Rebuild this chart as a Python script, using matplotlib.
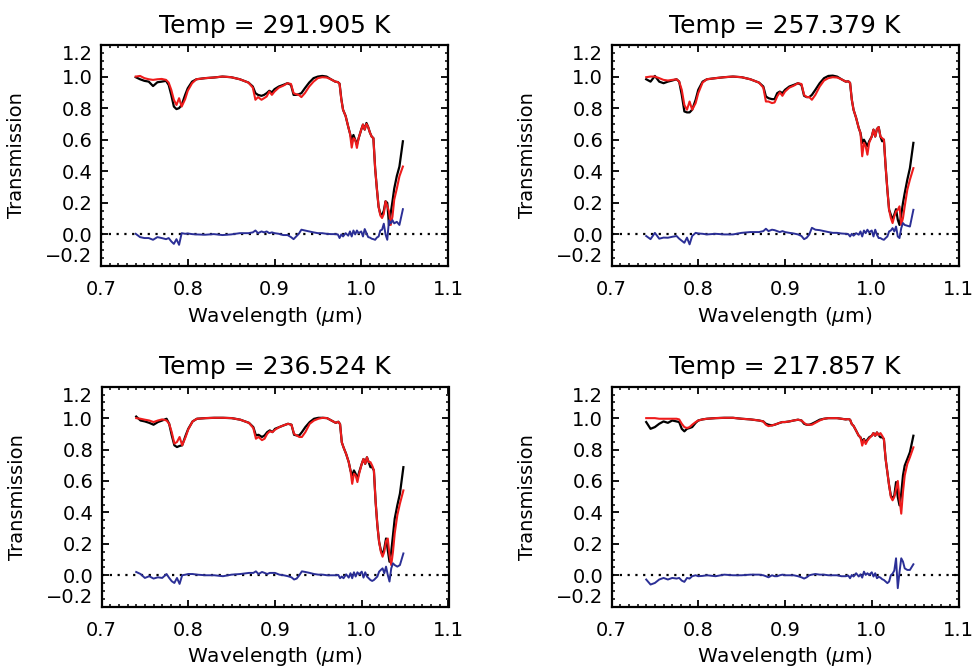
import matplotlib
matplotlib.use("Agg")
import matplotlib.pyplot as plt
from matplotlib.ticker import MultipleLocator, FixedLocator

# ---------------- data ----------------
wavelength = [0.740, 0.745, 0.750, 0.755, 0.760, 0.765, 0.770, 0.775,
              0.778, 0.781, 0.784, 0.787, 0.790, 0.793, 0.797,
              0.800, 0.805, 0.810,
              0.820, 0.830, 0.840, 0.850, 0.860, 0.870,
              0.875, 0.878, 0.881, 0.885, 0.888, 0.891, 0.894, 0.897,
              0.900, 0.905, 0.910, 0.915, 0.919,
              0.922, 0.925, 0.928, 0.931, 0.935,
              0.940, 0.945, 0.950, 0.955, 0.960, 0.965, 0.970,
              0.973, 0.975, 0.977, 0.979,
              0.982, 0.985, 0.987, 0.989, 0.991, 0.993, 0.995, 0.997,
              1.000, 1.002, 1.004, 1.006, 1.008, 1.010, 1.012, 1.014, 1.016, 1.018,
              1.020, 1.022, 1.024, 1.026, 1.028, 1.030, 1.032, 1.034, 1.036, 1.038,
              1.041, 1.044, 1.048]

temps = ["291.905", "257.379", "236.524", "217.857"]

# Panel 1: T = 291.905 K
obs_1 = [0.996, 0.983, 0.973, 0.968, 0.940, 0.964, 0.968, 0.973,
         0.947, 0.884, 0.810, 0.794, 0.800, 0.820, 0.884,
         0.926, 0.968, 0.983,
         0.990, 0.994, 1.000, 0.996, 0.983, 0.962,
         0.937, 0.895, 0.884, 0.878, 0.884, 0.895, 0.910, 0.900,
         0.920, 0.937, 0.947, 0.958, 0.947,
         0.884, 0.884, 0.888, 0.895, 0.926,
         0.962, 0.990, 1.000, 1.004, 1.000, 0.983, 0.968,
         0.965, 0.955, 0.860, 0.790,
         0.750, 0.682, 0.640, 0.600, 0.630, 0.600, 0.570, 0.610,
         0.664, 0.696, 0.664, 0.706, 0.680, 0.645, 0.620, 0.610, 0.420, 0.290,
         0.175, 0.130, 0.125, 0.150, 0.210, 0.200, 0.060, 0.135, 0.210, 0.290,
         0.370, 0.430, 0.590]
model_1 = [1.000, 1.004, 0.990, 0.983, 0.979, 0.983, 0.985, 0.979,
           0.962, 0.916, 0.853, 0.820, 0.863, 0.810, 0.857,
           0.910, 0.958, 0.983,
           0.990, 0.994, 1.000, 0.996, 0.983, 0.962,
           0.930, 0.853, 0.870, 0.853, 0.863, 0.874, 0.905, 0.884,
           0.905, 0.930, 0.942, 0.958, 0.953,
           0.895, 0.888, 0.884, 0.870, 0.895,
           0.937, 0.968, 0.990, 0.996, 0.994, 0.983, 0.968,
           0.965, 0.955, 0.855, 0.790,
           0.750, 0.682, 0.640, 0.550, 0.610, 0.600, 0.548, 0.610,
           0.664, 0.696, 0.664, 0.700, 0.680, 0.645, 0.620, 0.610, 0.420, 0.290,
           0.175, 0.120, 0.104, 0.130, 0.210, 0.180, 0.146, 0.060, 0.114, 0.220,
           0.290, 0.368, 0.430]
resid_1 = [0.004, -0.017, -0.023, -0.023, -0.034, -0.017, -0.023, -0.030,
           -0.023, -0.044, -0.060, -0.030, -0.066, 0.008, 0.004,
           0.006, 0.002, 0.000,
           -0.002, 0.002, -0.004, 0.000, 0.008, 0.008,
           0.013, 0.025, 0.008, 0.019, 0.013, 0.019, 0.008, 0.013,
           0.008, 0.004, -0.004, -0.004, -0.017,
           -0.030, -0.013, 0.004, 0.030, 0.025,
           0.019, 0.013, 0.008, 0.008, 0.004, 0.002, 0.002,
           0.000, -0.023, 0.000, -0.013,
           0.008, -0.008, 0.019, -0.013, 0.025, 0.000, 0.025, 0.008,
           0.019, -0.013, 0.034, 0.008, -0.017, -0.020, -0.027, -0.030, -0.034, -0.020,
           -0.013, 0.025, 0.030, 0.068, 0.000, -0.034, 0.090, 0.070, 0.090, 0.070,
           0.080, 0.060, 0.160]

# Panel 2: T = 257.379 K
obs_2 = [0.983, 0.968, 1.004, 0.968, 0.958, 0.968, 0.975, 0.983,
         0.968, 0.884, 0.779, 0.773, 0.773, 0.790, 0.853,
         0.916, 0.968, 0.983,
         0.990, 0.996, 1.000, 0.996, 0.983, 0.962,
         0.937, 0.874, 0.863, 0.857, 0.857, 0.895, 0.905, 0.895,
         0.916, 0.937, 0.947, 0.958, 0.947,
         0.878, 0.870, 0.870, 0.884, 0.916,
         0.958, 0.990, 1.004, 1.006, 1.000, 0.983, 0.968,
         0.970, 0.960, 0.854, 0.790,
         0.738, 0.674, 0.643, 0.580, 0.600, 0.580, 0.558, 0.590,
         0.620, 0.664, 0.620, 0.668, 0.680, 0.620, 0.590, 0.600, 0.430, 0.283,
         0.156, 0.125, 0.093, 0.125, 0.160, 0.093, 0.060, 0.125, 0.200, 0.262,
         0.347, 0.420, 0.580]
model_2 = [0.996, 1.000, 1.000, 0.990, 0.979, 0.975, 0.979, 0.983,
           0.968, 0.916, 0.820, 0.790, 0.842, 0.790, 0.832,
           0.895, 0.962, 0.983,
           0.990, 0.996, 1.000, 0.996, 0.983, 0.962,
           0.930, 0.842, 0.842, 0.832, 0.836, 0.874, 0.900, 0.878,
           0.905, 0.930, 0.942, 0.958, 0.953,
           0.884, 0.870, 0.870, 0.853, 0.884,
           0.937, 0.975, 0.990, 0.996, 0.994, 0.983, 0.968,
           0.970, 0.960, 0.854, 0.790,
           0.738, 0.674, 0.643, 0.495, 0.580, 0.558, 0.505, 0.580,
           0.620, 0.664, 0.620, 0.668, 0.680, 0.620, 0.610, 0.600, 0.430, 0.283,
           0.156, 0.104, 0.072, 0.114, 0.146, 0.156, 0.178, 0.060, 0.104, 0.178,
           0.283, 0.347, 0.420]
resid_2 = [-0.010, -0.030, 0.010, -0.027, -0.020, -0.021, -0.015, -0.010,
           -0.027, -0.040, -0.053, -0.020, -0.063, -0.010, 0.010,
           0.006, 0.004, 0.000,
           0.004, 0.000, 0.000, 0.010, 0.015, 0.015,
           0.021, 0.036, 0.021, 0.030, 0.027, 0.021, 0.015, 0.021,
           0.015, 0.010, 0.006, 0.000, -0.010,
           -0.030, -0.021, 0.000, 0.042, 0.030,
           0.027, 0.021, 0.015, 0.010, 0.010, 0.006, 0.004,
           0.002, -0.013, 0.004, -0.008,
           0.008, -0.002, 0.019, -0.013, 0.025, 0.008, 0.030, 0.013,
           0.025, -0.013, 0.030, -0.002, -0.023, -0.023, -0.030, -0.034, -0.023, -0.013,
           0.019, 0.025, 0.040, 0.019, 0.050, -0.013, -0.023, 0.040, 0.072, 0.060,
           0.055, 0.050, 0.156]

# Panel 3: T = 236.524 K
obs_3 = [1.010, 0.985, 0.979, 0.970, 0.958, 0.975, 0.985, 0.996,
         0.964, 0.890, 0.827, 0.816, 0.823, 0.827, 0.890,
         0.932, 0.979, 0.996,
         1.000, 1.002, 1.002, 1.000, 0.990, 0.970,
         0.943, 0.890, 0.894, 0.880, 0.890, 0.911, 0.922, 0.911,
         0.932, 0.943, 0.954, 0.964, 0.958,
         0.894, 0.890, 0.890, 0.911, 0.943,
         0.975, 0.996, 1.002, 1.002, 1.000, 0.985, 0.970,
         0.977, 0.962, 0.846, 0.814,
         0.772, 0.720, 0.667, 0.635, 0.667, 0.646, 0.614, 0.656,
         0.709, 0.740, 0.709, 0.751, 0.720, 0.688, 0.688, 0.667, 0.466, 0.318,
         0.213, 0.160, 0.129, 0.171, 0.234, 0.160, 0.086, 0.150, 0.255, 0.360,
         0.445, 0.519, 0.688]
model_3 = [1.000, 0.996, 0.990, 0.985, 0.975, 0.985, 0.992, 0.985,
           0.964, 0.910, 0.838, 0.848, 0.880, 0.827, 0.880,
           0.928, 0.979, 0.996,
           1.000, 1.002, 1.002, 1.000, 0.990, 0.970,
           0.937, 0.869, 0.880, 0.860, 0.869, 0.900, 0.916, 0.911,
           0.926, 0.943, 0.954, 0.964, 0.958,
           0.900, 0.890, 0.880, 0.880, 0.911,
           0.964, 0.985, 0.996, 1.002, 1.000, 0.985, 0.970,
           0.977, 0.962, 0.846, 0.814,
           0.772, 0.720, 0.667, 0.582, 0.646, 0.635, 0.593, 0.646,
           0.709, 0.740, 0.709, 0.751, 0.720, 0.720, 0.698, 0.667, 0.466, 0.318,
           0.213, 0.150, 0.118, 0.150, 0.217, 0.234, 0.129, 0.065, 0.150, 0.266,
           0.382, 0.456, 0.540]
resid_3 = [0.021, 0.008, -0.017, -0.006, -0.021, -0.013, -0.017, 0.008,
           -0.017, -0.038, -0.049, -0.017, -0.055, 0.000, 0.004,
           0.008, 0.008, 0.004,
           0.000, 0.000, -0.006, 0.004, 0.008, 0.015,
           0.015, 0.025, 0.008, 0.021, 0.015, 0.008, 0.015, 0.015,
           0.015, 0.004, 0.000, -0.006, -0.013,
           -0.027, -0.021, 0.000, 0.025, 0.021,
           0.015, 0.008, 0.004, 0.004, 0.000, 0.000, 0.000,
           0.002, -0.019, -0.008, -0.019,
           0.006, -0.015, 0.013, -0.019, 0.019, -0.008, 0.019, 0.006,
           0.023, -0.015, 0.019, -0.008, -0.019, -0.030, -0.036, -0.030, -0.019, -0.008,
           0.023, 0.034, 0.044, 0.013, 0.055, 0.002, -0.040, 0.044, 0.076, 0.065,
           0.055, 0.065, 0.139]

# Panel 4: T = 217.857 K
obs_4 = [0.975, 0.932, 0.943, 0.964, 0.979, 0.970, 0.985, 0.979,
         0.975, 0.932, 0.916, 0.932, 0.937, 0.943, 0.970,
         0.985, 0.992, 0.996,
         1.000, 1.002, 1.002, 0.996, 0.992, 0.985,
         0.979, 0.964, 0.958, 0.954, 0.958, 0.964, 0.970, 0.975,
         0.975, 0.979, 0.985, 0.990, 0.985,
         0.964, 0.958, 0.958, 0.964, 0.975,
         0.990, 0.996, 1.000, 1.000, 1.000, 0.996, 0.992,
         0.994, 0.990, 0.962, 0.951,
         0.920, 0.888, 0.878, 0.850, 0.867, 0.846, 0.863, 0.878,
         0.888, 0.905, 0.888, 0.909, 0.892, 0.878, 0.878, 0.867, 0.740, 0.656,
         0.572, 0.508, 0.487, 0.508, 0.593, 0.498, 0.445, 0.519, 0.635, 0.698,
         0.740, 0.783, 0.888]
model_4 = [1.000, 1.000, 1.000, 0.996, 0.996, 0.996, 0.996, 0.996,
           0.992, 0.964, 0.943, 0.937, 0.943, 0.958, 0.975,
           0.985, 0.992, 0.996,
           1.000, 1.002, 1.002, 0.996, 0.992, 0.985,
           0.979, 0.958, 0.949, 0.954, 0.958, 0.964, 0.970, 0.975,
           0.975, 0.979, 0.985, 0.990, 0.985,
           0.970, 0.958, 0.958, 0.958, 0.970,
           0.985, 0.996, 1.000, 1.000, 1.000, 0.996, 0.992,
           0.994, 0.990, 0.962, 0.951,
           0.920, 0.888, 0.878, 0.825, 0.863, 0.835, 0.857, 0.871,
           0.888, 0.905, 0.888, 0.909, 0.892, 0.905, 0.888, 0.867, 0.740, 0.656,
           0.572, 0.498, 0.477, 0.498, 0.550, 0.600, 0.487, 0.392, 0.530, 0.635,
           0.709, 0.751, 0.814]
resid_4 = [-0.027, -0.059, -0.049, -0.027, -0.017, -0.027, -0.017, -0.021,
           -0.017, -0.034, -0.042, -0.017, -0.021, -0.006, 0.000,
           -0.006, -0.004, 0.000,
           -0.006, 0.004, 0.000, 0.000, 0.004, 0.004,
           0.000, -0.006, -0.013, 0.000, -0.006, -0.006, 0.000, 0.004,
           0.000, 0.000, 0.000, -0.006, -0.013,
           -0.021, -0.013, 0.000, 0.004, 0.008,
           0.004, 0.004, 0.000, 0.000, 0.000, -0.006, -0.006,
           -0.002, -0.019, 0.002, -0.008,
           0.013, -0.008, 0.006, -0.015, 0.023, 0.002, 0.013, 0.002,
           0.019, -0.008, 0.013, -0.019, -0.010, -0.015, -0.025, -0.030, -0.040, -0.050,
           -0.040, 0.000, 0.010, 0.030, 0.108, -0.082, 0.020, 0.108, 0.087, 0.044,
           0.034, 0.034, 0.070]

observed = [obs_1, obs_2, obs_3, obs_4]
models = [model_1, model_2, model_3, model_4]
residuals = [resid_1, resid_2, resid_3, resid_4]

x_ticks = [0.7, 0.8, 0.9, 1.0, 1.1]
x_tick_labels = ["0.7", "0.8", "0.9", "1.0", "1.1"]
y_ticks = [-0.2, 0.0, 0.2, 0.4, 0.6, 0.8, 1.0, 1.2]
y_tick_labels = ["\u22120.2", "0.0", "0.2", "0.4", "0.6", "0.8", "1.0", "1.2"]

# ---------------- figure ----------------
W, H = 973, 669
fig = plt.figure(figsize=(W / 100, H / 100), dpi=100)

# axes boxes in pixels: (left, top, right, bottom)
boxes = [(101, 45, 448, 266), (611.5, 45, 958.5, 266),
         (101.5, 386.7, 448.5, 606.7), (611.5, 386.7, 958.5, 606.7)]

BLUE = "#2b2f96"
RED = "#ee1c1c"

for i, (l, t, r, b) in enumerate(boxes):
    ax = fig.add_axes([l / W, 1 - b / H, (r - l) / W, (b - t) / H])
    ax.axhline(0.0, color="black", linestyle=(0, (1, 2.5)), linewidth=1.6, zorder=1)
    ax.plot(wavelength, observed[i], color="black", linewidth=1.6, zorder=2)
    ax.plot(wavelength, models[i], color=RED, linewidth=1.5, zorder=3)
    ax.plot(wavelength, residuals[i], color=BLUE, linewidth=1.4, zorder=4)

    ax.set_xlim(0.7, 1.1)
    ax.set_ylim(-0.2, 1.2)
    ax.xaxis.set_major_locator(FixedLocator(x_ticks))
    ax.set_xticklabels(x_tick_labels)
    ax.yaxis.set_major_locator(FixedLocator(y_ticks))
    ax.set_yticklabels(y_tick_labels)
    ax.xaxis.set_minor_locator(MultipleLocator(0.01))
    ax.yaxis.set_minor_locator(MultipleLocator(0.05))
    ax.tick_params(which="both", direction="in", top=True, right=True,
                   colors="black", labelsize=14)
    ax.tick_params(which="major", length=5, width=1.3)
    ax.tick_params(which="minor", length=2.5, width=1.1)
    ax.tick_params(axis="x", which="major", pad=10)
    ax.tick_params(axis="y", which="major", pad=6)
    for sp in ax.spines.values():
        sp.set_linewidth(1.6)

    yt = ax.yaxis.get_major_ticks()
    yt[0].label1.set_verticalalignment("bottom")
    yt[-1].label1.set_verticalalignment("top")

    ax.set_title(f"Temp = {temps[i]} K", fontsize=18, pad=9)
    ax.set_ylabel("Transmission", fontsize=14)
    ax.yaxis.set_label_coords(-0.215, 0.5)
    ax.set_xlabel("Wavelength ($\\mu$m)", fontsize=14.5)
    ax.xaxis.set_label_coords(0.5, -0.175)
    ax.xaxis.label.set_verticalalignment("top")

fig.savefig("out.png", dpi=100)
